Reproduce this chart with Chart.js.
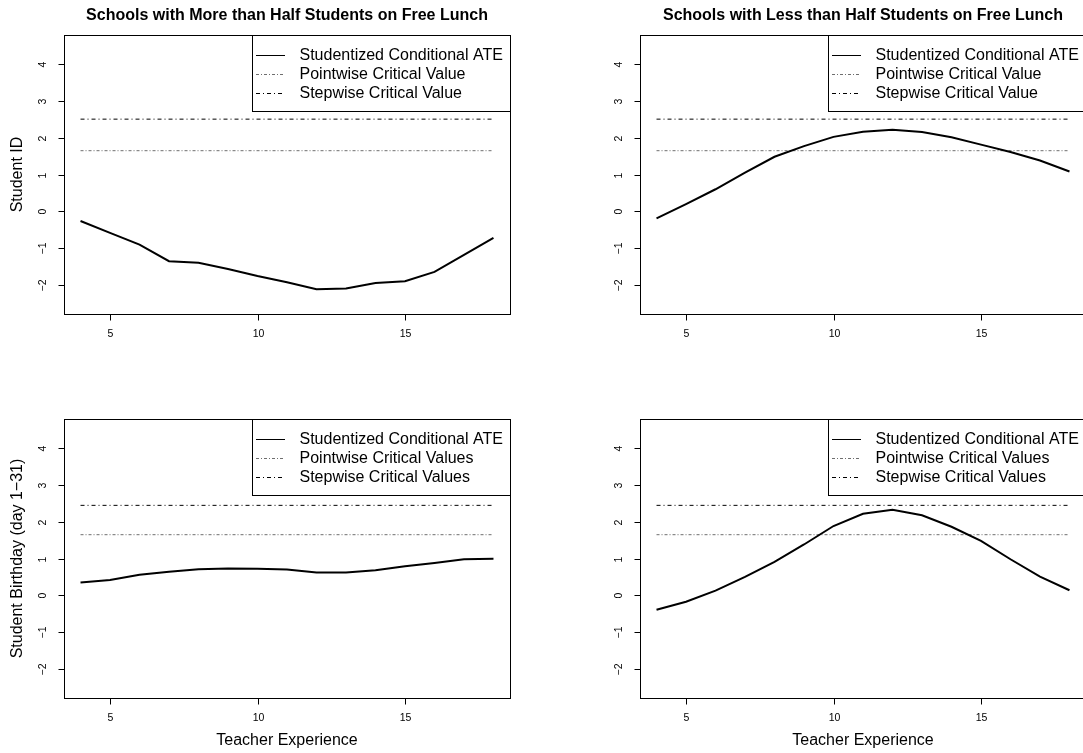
<!DOCTYPE html>
<html>
<head>
<meta charset="utf-8">
<title>Studentized Conditional ATE</title>
<script src="https://cdn.jsdelivr.net/npm/chart.js@4.4.1/dist/chart.umd.min.js"></script>
<style>
    html, body { margin: 0; padding: 0; background: #fff; overflow: hidden; width: 1083px; height: 753px; }
    .panel { position: absolute; }
</style>
</head>
<body>
<div class="panel" style="left:0;top:0"><canvas id="chartMoreId" width="576" height="376"></canvas></div>
<div class="panel" style="left:576px;top:0"><canvas id="chartLessId" width="576" height="376"></canvas></div>
<div class="panel" style="left:0;top:376px"><canvas id="chartMoreBday" width="576" height="377"></canvas></div>
<div class="panel" style="left:576px;top:376px"><canvas id="chartLessBday" width="576" height="377"></canvas></div>

<script>
// Teacher experience (years)
const experience = [4, 5, 6, 7, 8, 9, 10, 11, 12, 13, 14, 15, 16, 17, 18];

// Studentized conditional ATE, one array per panel
const ateMoreHalfId   = [-0.26, -0.58, -0.90, -1.35, -1.39, -1.56, -1.75, -1.92, -2.11, -2.09, -1.94, -1.89, -1.64, -1.18, -0.72];
const ateLessHalfId   = [-0.19, 0.20, 0.60, 1.05, 1.48, 1.77, 2.02, 2.16, 2.21, 2.15, 2.01, 1.81, 1.61, 1.38, 1.08];
const ateMoreHalfBday = [0.35, 0.42, 0.56, 0.64, 0.71, 0.73, 0.72, 0.70, 0.62, 0.62, 0.68, 0.79, 0.88, 0.98, 0.99];
const ateLessHalfBday = [-0.39, -0.17, 0.13, 0.50, 0.91, 1.38, 1.88, 2.21, 2.32, 2.17, 1.86, 1.48, 0.98, 0.51, 0.14];

// Critical values (top-left, top-right, bottom-left, bottom-right)
const pointwiseCV = [1.645, 1.645, 1.645, 1.645];
const stepwiseCV  = [2.50, 2.50, 2.44, 2.44];

// Axis ticks
const xTicks = [5, 10, 15];
const yTicks = [-2, -1, 0, 1, 2, 3, 4];

const FONT = '"Liberation Sans", Arial, Helvetica, sans-serif';

document.addEventListener('DOMContentLoaded', function() {

    // R-like frame, axes, titles and legend drawn on top of the chart area
    const rStylePlugin = {
        id: 'rStyle',
        afterDraw(chart, args, opts) {
            const ctx = chart.ctx;
            const area = chart.chartArea;
            const xs = chart.scales.x;
            const ys = chart.scales.y;
            const L = Math.round(area.left) + 0.5;
            const R = Math.round(area.right) + 0.5;
            const T = Math.round(area.top) + 0.5;
            const B = Math.round(area.bottom) + 0.5;

            ctx.save();
            ctx.strokeStyle = '#000';
            ctx.lineWidth = 1;
            ctx.setLineDash([]);
            ctx.strokeRect(L, T, R - L, B - T);

            // x axis ticks
            ctx.fillStyle = '#000';
            ctx.font = '10.5px ' + FONT;
            ctx.textAlign = 'center';
            ctx.textBaseline = 'middle';
            xTicks.forEach(function(v) {
                const px = Math.round(xs.getPixelForValue(v)) + 0.5;
                ctx.beginPath();
                ctx.moveTo(px, B);
                ctx.lineTo(px, B + 6);
                ctx.stroke();
                ctx.fillText(String(v), px, area.bottom + 20);
            });

            // y axis ticks (labels parallel to the axis)
            yTicks.forEach(function(v) {
                const py = Math.round(ys.getPixelForValue(v)) + 0.5;
                ctx.beginPath();
                ctx.moveTo(L, py);
                ctx.lineTo(L - 6, py);
                ctx.stroke();
                ctx.save();
                ctx.translate(area.left - 21, py);
                ctx.rotate(-Math.PI / 2);
                ctx.fillText(String(v).replace('-', '\u2212'), 0, 0);
                ctx.restore();
            });

            const cx = (area.left + area.right) / 2;
            if (opts.title) {
                ctx.font = 'bold 16px ' + FONT;
                ctx.fillText(opts.title, cx, area.top - 19);
            }
            ctx.font = '16px ' + FONT;
            if (opts.xTitle) {
                ctx.fillText(opts.xTitle, cx, area.bottom + 43);
            }
            if (opts.yTitle) {
                ctx.save();
                ctx.translate(area.left - 46.5, (area.top + area.bottom) / 2);
                ctx.rotate(-Math.PI / 2);
                ctx.fillText(opts.yTitle, 0, 0);
                ctx.restore();
            }

            // legend box in the top right corner
            const sets = chart.data.datasets;
            let textW = 0;
            sets.forEach(function(ds) { textW = Math.max(textW, ctx.measureText(ds.label).width); });
            const boxR = R;
            const boxL = Math.round(boxR - 7.5 - textW - 14.5 - 29 - 4);
            const boxB = Math.round(area.top + 76.3) + 0.5;
            ctx.fillStyle = '#fff';
            ctx.fillRect(boxL, T, boxR - boxL, boxB - T);
            ctx.strokeStyle = '#000';
            ctx.strokeRect(boxL + 0.5, T, boxR - boxL - 0.5, boxB - T);
            ctx.textAlign = 'left';
            sets.forEach(function(ds, i) {
                const ry = Math.round(area.top + 19.6 + i * 19.2) + 0.5;
                ctx.strokeStyle = ds.borderColor;
                ctx.lineWidth = 1;
                ctx.setLineDash(ds.borderDash || []);
                ctx.beginPath();
                ctx.moveTo(boxL + 4, ry);
                ctx.lineTo(boxL + 33, ry);
                ctx.stroke();
                ctx.setLineDash([]);
                ctx.fillStyle = '#000';
                ctx.fillText(ds.label, boxL + 47.5, ry);
            });
            ctx.restore();
        }
    };

    function toPoints(xs, ys) {
        return xs.map(function(x, i) { return { x: x, y: ys[i] }; });
    }

    function flatLine(v) {
        return [{ x: experience[0], y: v }, { x: experience[experience.length - 1], y: v }];
    }

    function makePanel(id, ate, pw, sw, opts) {
        const canvas = document.getElementById(id);
        if (!canvas) return;
        const suffix = opts.plural ? 's' : '';
        new Chart(canvas.getContext('2d'), {
            type: 'line',
            data: {
                datasets: [{
                    label: 'Studentized Conditional ATE',
                    data: toPoints(experience, ate),
                    borderColor: '#000',
                    borderWidth: 2,
                    pointRadius: 0,
                    tension: 0
                }, {
                    label: 'Pointwise Critical Value' + suffix,
                    data: flatLine(pw),
                    borderColor: '#6e6e6e',
                    borderWidth: 1,
                    borderDash: [3, 2, 1, 2],
                    pointRadius: 0
                }, {
                    label: 'Stepwise Critical Value' + suffix,
                    data: flatLine(sw),
                    borderColor: '#000',
                    borderWidth: 1,
                    borderDash: [4, 3, 1, 3],
                    pointRadius: 0
                }]
            },
            options: {
                responsive: false,
                animation: false,
                devicePixelRatio: 1,
                events: [],
                layout: { padding: opts.padding },
                scales: {
                    x: { type: 'linear', min: 3.44, max: 18.56, display: false },
                    y: { type: 'linear', min: -2.78, max: 4.78, display: false }
                },
                plugins: {
                    legend: { display: false },
                    tooltip: { enabled: false },
                    rStyle: opts
                }
            },
            plugins: [rStylePlugin]
        });
    }

    const topPad = { left: 64, right: 66, top: 35, bottom: 62 };
    const botPad = { left: 64, right: 66, top: 43, bottom: 55 };

    makePanel('chartMoreId', ateMoreHalfId, pointwiseCV[0], stepwiseCV[0], {
        padding: topPad,
        title: 'Schools with More than Half Students on Free Lunch',
        yTitle: 'Student ID'
    });
    makePanel('chartLessId', ateLessHalfId, pointwiseCV[1], stepwiseCV[1], {
        padding: topPad,
        title: 'Schools with Less than Half Students on Free Lunch'
    });
    makePanel('chartMoreBday', ateMoreHalfBday, pointwiseCV[2], stepwiseCV[2], {
        padding: botPad,
        plural: true,
        xTitle: 'Teacher Experience',
        yTitle: 'Student Birthday (day 1\u221231)'
    });
    makePanel('chartLessBday', ateLessHalfBday, pointwiseCV[3], stepwiseCV[3], {
        padding: botPad,
        plural: true,
        xTitle: 'Teacher Experience'
    });
});
</script>
</body>
</html>
